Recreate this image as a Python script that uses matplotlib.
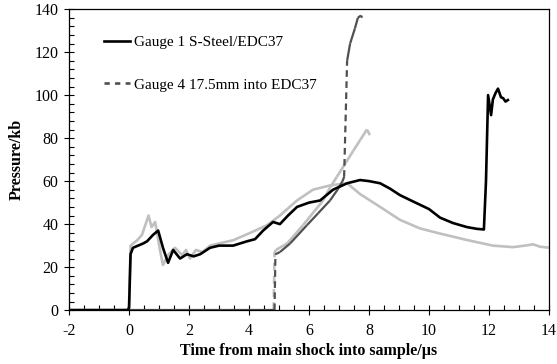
import numpy as np
import matplotlib
matplotlib.use("Agg")
import matplotlib.pyplot as plt
from matplotlib.collections import LineCollection
from matplotlib.lines import Line2D
from matplotlib.ticker import MultipleLocator

plt.rcParams["font.family"] = ["Liberation Serif", "DejaVu Serif"]
plt.rcParams["axes.unicode_minus"] = False

# Gauge 1 S-Steel/EDC37 (black)
g1_t = [-2, -0.05, 0.0, 0.05, 0.13, 0.3, 0.47, 0.6, 0.8, 0.97, 1.13, 1.3, 1.47,
        1.7, 1.93, 2.15, 2.37, 2.7, 3.0, 3.47, 3.93, 4.2, 4.47, 4.8, 5.03, 5.3,
        5.6, 6.0, 6.37, 6.8, 7.27, 7.7, 8.0, 8.37, 8.7, 9.03, 9.4, 9.7, 10.0,
        10.37, 10.8, 11.27, 11.6, 11.83, 11.9, 11.97, 12.07, 12.13, 12.22, 12.3,
        12.4, 12.47, 12.55, 12.63]
g1_p = [0, 0, 1, 26, 29, 30, 31, 32, 35, 37, 29, 22, 28,
        24, 26, 25, 26, 29, 30, 30, 32, 33, 37, 41, 40, 44,
        48, 50, 51, 56, 59, 60.5, 60, 59, 56.5, 53.5, 51, 49, 47,
        43, 40.5, 38.6, 37.8, 37.5, 60, 100, 90.7, 98, 101, 103,
        99, 98.6, 97, 97.7]

# Light grey companion trace
g2_t = [-2, -0.05, 0.0, 0.05, 0.27, 0.43, 0.65, 0.75, 0.87, 1.03, 1.13, 1.3,
        1.53, 1.77, 1.9, 2.03, 2.23, 2.45, 2.7, 3.0, 3.47, 3.97, 4.6, 5.03,
        5.6, 6.13, 6.7, 7.27, 7.7, 8.37, 9.03, 9.7, 10.37, 11.27, 12.13, 12.8,
        13.2, 13.47, 13.7, 14.03]
g2_p = [0, 0, 2, 30, 32.5, 35, 44, 38.6, 41, 28, 21, 25.6,
        29, 25.6, 28, 24, 28, 27, 30, 31, 32.5, 35.5, 39.5, 44,
        51, 56, 58, 59, 54, 48, 42, 38, 35.6, 32.6, 30, 29.3,
        30, 30.6, 29.5, 29]

# Gauge 4 17.5mm into EDC37 (dark grey, dashed)
g4_t = [-2, 4.85, 4.88, 5.03, 5.37, 5.93, 6.3, 6.7, 6.95, 7.12, 7.17, 7.27,
        7.37, 7.53, 7.63, 7.73, 7.77]
g4_p = [0, 0, 26, 27, 31, 39.5, 45, 51, 56, 60, 62, 116,
        124, 131, 136, 137, 136]

# Light grey gauge-4 companion trace
g5_t = [-2, 4.82, 4.85, 4.9, 5.27, 5.8, 6.47, 6.7, 6.93, 7.2, 7.47, 7.7, 7.93, 8.03]
g5_p = [0, 0, 27, 28, 31, 39.5, 51, 57, 62, 68, 74, 79, 84, 81.4]

black = "#000000"
light = "#c0c0c0"
dark = "#505050"


def dashed_jumps(ax, t, p, color, lw):
    # steep jumps drawn dashed, the rest of the trace solid
    pts = np.column_stack([t, p])
    segs = np.stack([pts[:-1], pts[1:]], axis=1)
    styles = [(0, (3, 2)) if abs(b[1] - a[1]) > 15 else "solid" for a, b in segs]
    lc = LineCollection(segs, colors=color, linewidths=lw, linestyles=styles,
                        capstyle="butt", zorder=2)
    ax.add_collection(lc)


fig = plt.figure(figsize=(5.57, 3.64), dpi=100)
ax = fig.add_axes([0.124, 0.148, 0.8616, 0.827])

ax.plot(g2_t, g2_p, color=light, lw=1.9, zorder=2)
dashed_jumps(ax, g5_t, g5_p, light, 1.9)
dashed_jumps(ax, g4_t, g4_p, dark, 1.6)
ax.plot(g1_t, g1_p, color=black, lw=1.9, zorder=3)

ax.set_xlim(-2, 14)
ax.set_ylim(0, 140)
ax.xaxis.set_major_locator(MultipleLocator(2))
ax.xaxis.set_minor_locator(MultipleLocator(0.5))
ax.yaxis.set_major_locator(MultipleLocator(20))
ax.yaxis.set_minor_locator(MultipleLocator(4))
ax.tick_params(which="major", direction="inout", length=7, width=0.8, labelsize=11.5)
ax.tick_params(which="minor", direction="in", length=3.5, width=0.8)
ax.tick_params(axis="x", which="major", pad=6)
ax.tick_params(axis="y", which="major", pad=4)
for s in ax.spines.values():
    s.set_linewidth(0.9)

ax.set_xlabel("Time from main shock into sample/\u00b5s", fontsize=11.5,
              fontweight="bold", labelpad=3)
ax.set_ylabel("Pressure/kb", fontsize=11.5, fontweight="bold", labelpad=7)

handles = [Line2D([], [], color=black, lw=1.9),
           Line2D([], [], color=dark, lw=1.9, ls=(0, (2, 2)))]
labels = ["Gauge 1 S-Steel/EDC37", "Gauge 4 17.5mm into EDC37"]
ax.legend(handles, labels, loc="upper left", bbox_to_anchor=(0.072, 0.913),
          frameon=False, fontsize=11, handlelength=1.7, handletextpad=0.3,
          labelspacing=1.9, borderpad=0, borderaxespad=0)

fig.savefig("out.png", dpi=100)
